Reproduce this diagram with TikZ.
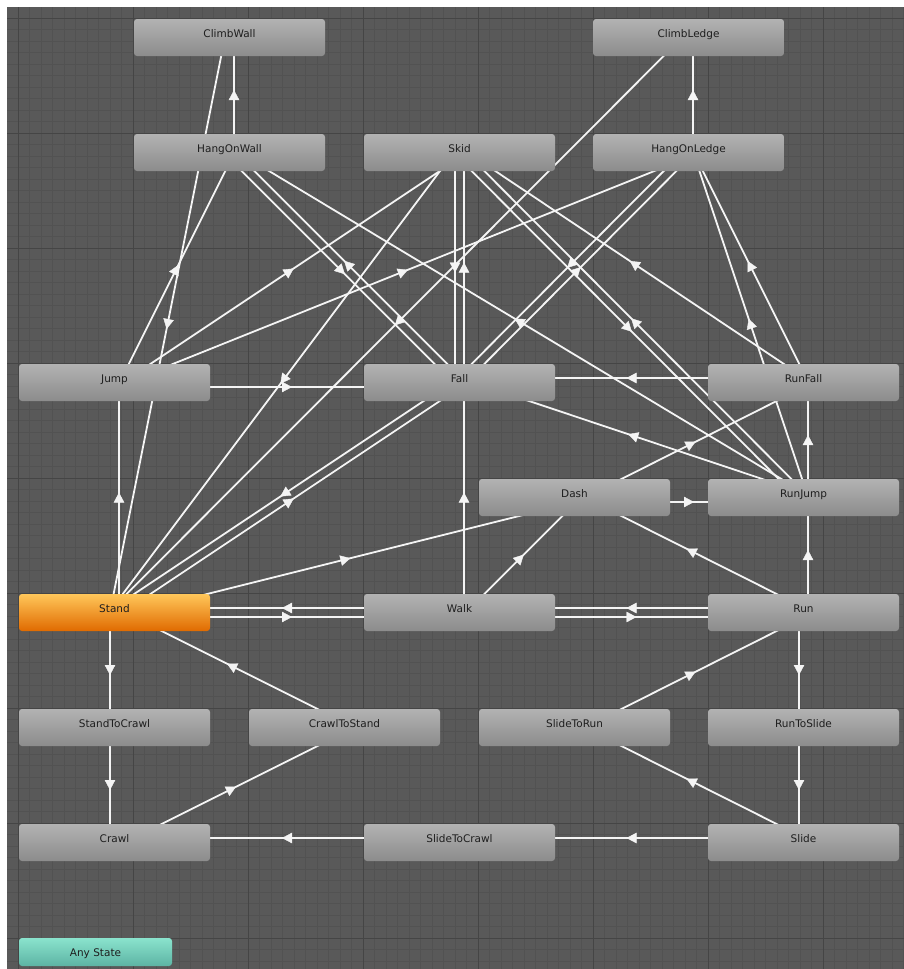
\documentclass[tikz,border=0pt]{standalone}
\usepackage{fontspec}
\setmainfont{DejaVu Sans}
\usetikzlibrary{arrows.meta,calc,decorations.markings,backgrounds}
\definecolor{bg}{HTML}{595959}
\definecolor{minorc}{HTML}{525252}
\definecolor{majorc}{HTML}{454545}
\definecolor{gtop}{HTML}{B2B2B2}
\definecolor{gbot}{HTML}{8C8C8C}
\definecolor{otop}{HTML}{FFC75A}
\definecolor{obot}{HTML}{E06A00}
\definecolor{ttop}{HTML}{8AE3CD}
\definecolor{tbot}{HTML}{5DB4A4}
\definecolor{txt}{HTML}{1E1E1E}
\definecolor{edge}{HTML}{F4F4F4}
\newcommand\tranline[2]{\draw[tr] ($(#1.center)!4.5pt!-90:(#2.center)$) -- ($(#2.center)!4.5pt!90:(#1.center)$);}
\begin{document}
\begin{tikzpicture}[x=1pt,y=-1pt,
  st/.style={rectangle, rounded corners=3pt, minimum width=191pt, minimum height=37pt, inner sep=0pt, draw=none, top color=gtop, bottom color=gbot},
  lbl/.style={font=\fontsize{10.5}{12}\selectfont, text=txt, inner sep=0pt, anchor=base},
  tr/.style={color=edge, line width=1.8pt, postaction={decorate},
    decoration={markings, mark=at position 0.5 with {\arrow[xshift=5pt]{Triangle[width=10.5pt,length=10pt,line width=0.4pt]}}}}]
\useasboundingbox (0,0) rectangle (904,969);
\begin{pgfonlayer}{background}
\fill[white] (0,0) rectangle (904,969);
\fill[bg] (7,7) rectangle (904,969);
\begin{scope}
\clip (7,7) rectangle (904,969);
\foreach \k in {0,...,77} \draw[minorc, line width=0.7pt] ({18+11.5*\k},7) -- ({18+11.5*\k},969);
\foreach \k in {0,...,82} \draw[minorc, line width=0.7pt] (7,{18+11.5*\k}) -- (904,{18+11.5*\k});
\foreach \k in {0,...,7} \draw[majorc, line width=1pt] ({18+115*\k},7) -- ({18+115*\k},969);
\foreach \k in {0,...,8} \draw[majorc, line width=1pt] (7,{18+115*\k}) -- (904,{18+115*\k});
\end{scope}
\end{pgfonlayer}
% states
\foreach \n/\x/\y in {ClimbWall/229.5/37.5, ClimbLedge/688.5/37.5, HangOnWall/229.5/152.5, Skid/459.5/152.5, HangOnLedge/688.5/152.5, Jump/114.5/382.5, Fall/459.5/382.5, RunFall/803.5/382.5, Dash/574.5/497.5, RunJump/803.5/497.5, Walk/459.5/612.5, Run/803.5/612.5, StandToCrawl/114.5/727.5, CrawlToStand/344.5/727.5, SlideToRun/574.5/727.5, RunToSlide/803.5/727.5, Crawl/114.5/842.5, SlideToCrawl/459.5/842.5, Slide/803.5/842.5}{
  \node[st] (\n) at (\x,\y) {};
  \node[lbl] at (\x,\y+0.2) {\n};
}
\node[st, top color=otop, bottom color=obot] (Stand) at (114.5,612.5) {};
\node[lbl] at (114.5,612.7) {Stand};
\node[st, minimum width=153pt, minimum height=28pt, top color=ttop, bottom color=tbot] (AnyState) at (95.5,952) {};
\node[lbl] at (95.5,956) {Any State};
% transitions
\begin{pgfonlayer}{background}
\foreach \a/\b in {HangOnWall/ClimbWall, ClimbWall/Stand, HangOnLedge/ClimbLedge, ClimbLedge/Stand,
  Jump/HangOnWall, Jump/Skid, Jump/HangOnLedge, Jump/Fall, Stand/Jump,
  HangOnWall/Fall, Fall/HangOnWall, RunJump/HangOnWall,
  Skid/Fall, Fall/Skid, Skid/Stand, Skid/RunJump, RunJump/Skid, RunFall/Skid,
  HangOnLedge/Fall, Fall/HangOnLedge, RunFall/HangOnLedge, RunJump/HangOnLedge,
  RunFall/Fall, RunJump/Fall, Stand/Fall, Fall/Stand, Walk/Fall,
  Dash/RunFall, Dash/RunJump, Stand/Dash, Walk/Dash, Run/Dash,
  Run/RunJump, RunJump/RunFall, Stand/Walk, Walk/Stand, Walk/Run, Run/Walk,
  Run/RunToSlide, RunToSlide/Slide, SlideToRun/Run, Slide/SlideToRun,
  Slide/SlideToCrawl, SlideToCrawl/Crawl, Stand/StandToCrawl, StandToCrawl/Crawl,
  Crawl/CrawlToStand, CrawlToStand/Stand}
  {\tranline{\a}{\b}}
\end{pgfonlayer}
\end{tikzpicture}
\end{document}
